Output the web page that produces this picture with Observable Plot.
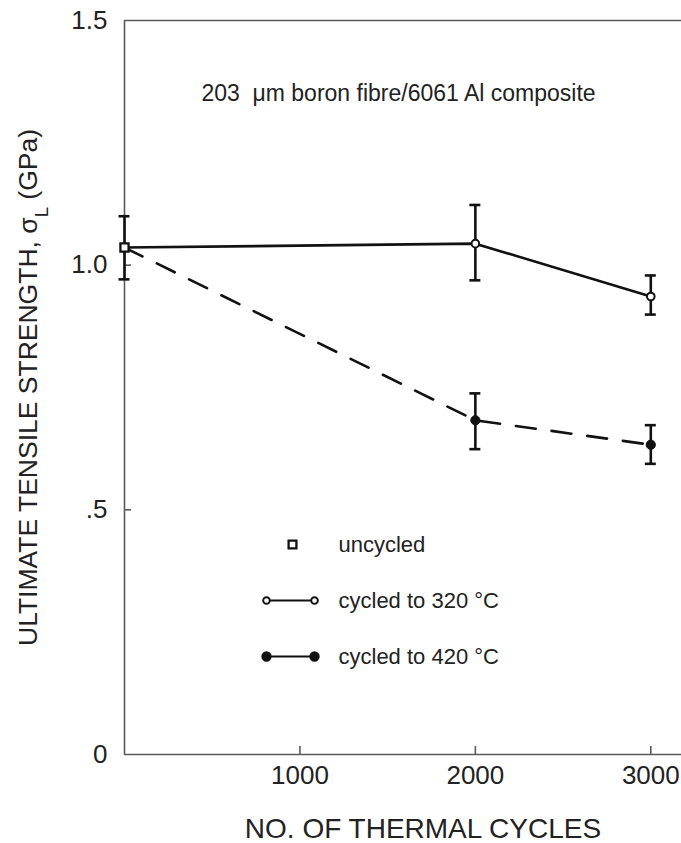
<!DOCTYPE html>
<html><head><meta charset="utf-8">
<script src="https://cdn.jsdelivr.net/npm/d3@7"></script>
<script src="https://cdn.jsdelivr.net/npm/@observablehq/plot@0.6"></script>
<style>
body{margin:0;background:#fff;}
#chart svg{display:block;font-family:"Liberation Sans",Arial,sans-serif;background:#fff;}
</style>
</head><body><div id="chart"></div>
<script>
// ---- data ----
const cycles = [0, 2000, 3000];
const strength320 = [1.036, 1.044, 0.936];
const strength420 = [1.036, 0.683, 0.633];
const err320Low = [0.971, 0.969, 0.899];
const err320High = [1.100, 1.123, 0.979];
const err420Low = [0.971, 0.624, 0.594];
const err420High = [1.100, 0.738, 0.673];
const uncycledCycles = [0];
const uncycledStrength = [1.036];
const xTicks = [1000, 2000, 3000];
const xTickLabels = ["1000", "2000", "3000"];
const yTicks = [0, 0.5, 1.0, 1.5];
const yTickLabels = ["0", ".5", "1.0", "1.5"];
const legendLabels = ["uncycled", "cycled to 320 °C", "cycled to 420 °C"];
const annotation = "203\u00a0 μm boron fibre/6061 Al composite";
const xTitle = "NO. OF THERMAL CYCLES";
const yTitleMain = "ULTIMATE TENSILE STRENGTH, σ";
const yTitleSub = "L";
const yTitleEnd = " (GPa)";

// ---- layout ----
const W = 681, H = 843;
const mL = 124, mR = 0, mT = 20, mB = 89;
const frameW = W - mL - mR, frameH = H - mT - mB;
const axisGray = "#5a5a5a";
const ink = "#111";

const rows320 = cycles.map((c, i) => ({c, v: strength320[i], lo: err320Low[i], hi: err320High[i]}));
const rows420 = cycles.map((c, i) => ({c, v: strength420[i], lo: err420Low[i], hi: err420High[i]}));
const rowsUn = uncycledCycles.map((c, i) => ({c, v: uncycledStrength[i], lo: err320Low[i], hi: err320High[i]}));
const errRows = [...rowsUn, ...rows320.slice(1), ...rows420.slice(1)];

const legendLine = (rad, half) => ({
  draw(ctx) {
    ctx.moveTo(-half + rad, 0); ctx.lineTo(half - rad, 0);
    ctx.moveTo(-half + rad, 0); ctx.arc(-half, 0, rad, 0, 2 * Math.PI);
    ctx.moveTo(half + rad, 0); ctx.arc(half, 0, rad, 0, 2 * Math.PI);
  }
});
const legendTop = 524, legendStep = 56, legendSymX = 168, legendTextX = 214;

const chart = Plot.plot({
  width: W, height: H,
  marginLeft: mL, marginRight: mR, marginTop: mT, marginBottom: mB,
  x: {domain: [0, 3175]},
  y: {domain: [0, 1.5]},
  style: {fontFamily: '"Liberation Sans", Arial, sans-serif', color: ink},
  marks: [
    // frame lines
    Plot.ruleY([0, 1.5], {stroke: axisGray, strokeWidth: 1.6}),
    Plot.ruleX([0], {stroke: axisGray, strokeWidth: 1.6}),
    // inward ticks
    Plot.tickX(xTicks, {x: d => d, insetTop: frameH - 8, stroke: axisGray, strokeWidth: 1.6}),
    Plot.tickY(yTicks.slice(1, 3), {y: d => d, insetRight: frameW - 7, stroke: axisGray, strokeWidth: 1.6}),
    // series lines
    Plot.line(rows320, {x: "c", y: "v", stroke: ink, strokeWidth: 2.6}),
    Plot.line(rows420, {x: "c", y: "v", stroke: ink, strokeWidth: 2.6, strokeDasharray: "20,16"}),
    // error bars
    Plot.ruleX(errRows, {x: "c", y1: "lo", y2: "hi", stroke: ink, strokeWidth: 2.6}),
    Plot.ruleY(errRows, {x1: "c", x2: "c", y: "lo", insetLeft: -5.5, insetRight: -5.5, stroke: ink, strokeWidth: 2.6}),
    Plot.ruleY(errRows, {x1: "c", x2: "c", y: "hi", insetLeft: -5.5, insetRight: -5.5, stroke: ink, strokeWidth: 2.6}),
    // markers
    Plot.dot(rowsUn, {x: "c", y: "v", symbol: "square", r: 4.6, fill: "white", stroke: ink, strokeWidth: 2.3}),
    Plot.dot(rows320.slice(1), {x: "c", y: "v", r: 3.8, fill: "white", stroke: ink, strokeWidth: 2}),
    Plot.dot(rows420.slice(1), {x: "c", y: "v", r: 4.6, fill: ink, stroke: ink, strokeWidth: 1}),
    // legend
    Plot.dot([legendLabels[0]], {frameAnchor: "top-left", dx: legendSymX, dy: legendTop, symbol: "square", r: 4.4, fill: "white", stroke: ink, strokeWidth: 2.3}),
    Plot.dot([legendLabels[1]], {frameAnchor: "top-left", dx: legendSymX - 2, dy: legendTop + legendStep, symbol: legendLine(3.3, 24), r: 5, fill: "white", stroke: ink, strokeWidth: 2}),
    Plot.dot([legendLabels[2]], {frameAnchor: "top-left", dx: legendSymX - 2, dy: legendTop + 2 * legendStep, symbol: legendLine(4.2, 24), r: 5, fill: ink, stroke: ink, strokeWidth: 2}),
    Plot.text(legendLabels, {text: d => d, frameAnchor: "top-left", dx: legendTextX, dy: legendTop, textAnchor: "start", lineAnchor: "middle", fontSize: 22, fill: "#222"}),
    // annotation and x title
    Plot.text([annotation], {text: d => d, frameAnchor: "top", dx: -4.5, dy: 73, lineAnchor: "middle", fontSize: 23, fill: "#222"}),
    Plot.text([xTitle], {text: d => d, frameAnchor: "bottom", dx: 20, dy: 75, lineAnchor: "middle", fontSize: 28, fill: "#222"}),
    // axes
    Plot.axisX({ticks: xTicks, tickFormat: d => xTickLabels[xTicks.indexOf(d)], tickSize: 0, tickPadding: 11, fontSize: 26, label: null, color: "#222"}),
    Plot.axisY({ticks: yTicks, tickFormat: d => yTickLabels[yTicks.indexOf(d)], tickSize: 0, tickPadding: 17, fontSize: 26, color: "#222",
      label: yTitleMain + yTitleSub + yTitleEnd, labelAnchor: "center", labelOffset: 106})
  ]
});

document.getElementById("chart").appendChild(chart);
const svg = d3.select(chart);

// spread legend labels onto their rows
svg.selectAll("g[aria-label='text']").each(function () {
  const texts = d3.select(this).selectAll("text");
  if (texts.size() === legendLabels.length) {
    texts.each(function (d, i) {
      const t = d3.select(this);
      const tr = t.attr("transform") || "";
      const m = tr.match(/translate\(([-\d.]+),([-\d.]+)\)/);
      if (m) t.attr("transform", `translate(${m[1]},${+m[2] + i * legendStep})`);
      else t.attr("y", +(t.attr("y") || 0) + i * legendStep);
    });
  }
});
// subscript in y title
const yl = svg.select("g[aria-label='y-axis label'] text");
if (!yl.empty()) {
  yl.attr("font-size", 26.5);
  yl.text(null);
  yl.append("tspan").text(yTitleMain);
  yl.append("tspan").attr("baseline-shift", "sub").attr("font-size", "70%").text(yTitleSub);
  yl.append("tspan").text(yTitleEnd);
}
</script>
</body></html>
